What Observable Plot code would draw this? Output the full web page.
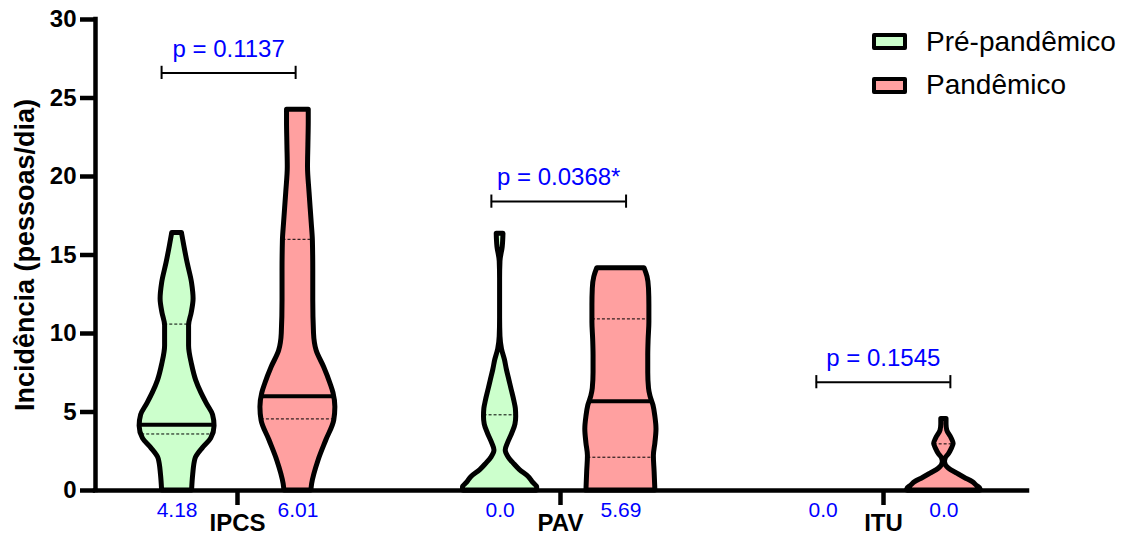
<!DOCTYPE html>
<html>
<head>
<meta charset="utf-8">
<script src="https://cdn.jsdelivr.net/npm/d3@7"></script>
<script src="https://cdn.jsdelivr.net/npm/@observablehq/plot@0.6"></script>
<style>
  body { margin: 0; background: #fff; font-family: "Liberation Sans", Arial, sans-serif; }
  #chart { position: relative; width: 1124px; height: 536px; }
  #chart svg { display: block; }
  .legend { position: absolute; left: 872px; top: 20px; }
  .legend .row { display: flex; align-items: center; height: 43.5px; }
  .legend .swatch { width: 27px; height: 9px; border: 4px solid #000; border-radius: 2px; margin-right: 19px; }
  .legend .label { font-size: 28px; color: #000; }
</style>
</head>
<body>
<div id="chart"></div>
<script>
// ---- data ----------------------------------------------------------------
const categories = ["IPCS", "PAV", "ITU"];
const groups = ["Pré-pandêmico", "Pandêmico"];
const groupColors = ["#ccffcc", "#ffa0a0"];

// medians (labelled under each violin) and quartiles, per category
const medianPre = [4.18, 0.0, 0.0];
const medianPan = [6.01, 5.69, 0.0];
const q1Pre = [3.6, 0.0, 0.0];
const q3Pre = [10.6, 4.82, 0.0];
const q1Pan = [4.56, 2.12, 0.0];
const q3Pan = [16.0, 10.93, 2.97];

// Mann-Whitney p-values, one per category
const pValues = [0.1137, 0.0368, 0.1545];

// kernel density profiles: [incidence, relative density (max = 1)]
const densityIpcsPre = [[0,.40],[1.0,.43],[2.0,.49],[2.7,.69],[3.3,.91],[4.1,1.0],[4.8,.96],[5.5,.80],[6.2,.65],[7.0,.51],[8.0,.40],[9.2,.32],[10.5,.32],[11.3,.39],[12.2,.44],[13.2,.40],[14.5,.28],[15.6,.19],[16.4,.13]];
const densityIpcsPan = [[0,.36],[0.4,.38],[1.9,.55],[3.2,.76],[4.46,.97],[5.3,1.0],[6.2,.95],[6.8,.87],[7.85,.70],[8.9,.50],[10.0,.43],[12.1,.41],[14.0,.41],[15.9,.40],[17.0,.37],[19.0,.31],[20.6,.27],[22.0,.28],[23.5,.29],[24.25,.29]];
const densityPavPre = [[0,.99],[0.2,.99],[0.5,.88],[0.85,.77],[1.3,.53],[1.7,.37],[2.1,.23],[2.55,.15],[3.0,.21],[3.6,.32],[4.2,.41],[4.7,.43],[5.2,.42],[5.7,.38],[6.4,.31],[7.0,.25],[7.7,.18],[8.3,.13],[9.0,.05],[9.8,.01],[11,0],[13.5,0],[14.6,.01],[15.5,.07],[16.35,.09]];
const densityPavPan = [[0,.92],[1.17,.90],[2.2,.88],[3.0,.92],[3.9,.95],[4.7,.92],[5.4,.87],[6.0,.79],[6.5,.75],[7.5,.73],[8.6,.73],[9.6,.74],[10.7,.76],[11.8,.76],[12.85,.75],[13.6,.71],[14.16,.63]];
const densityItuPre = []; // every observation is zero: no visible violin
const densityItuPan = [[0,.98],[0.1,.98],[0.3,.88],[0.53,.77],[0.8,.56],[1.06,.37],[1.4,.13],[1.8,.03],[2.05,.05],[2.3,.13],[2.65,.21],[2.97,.26],[3.3,.21],[3.82,.09],[4.2,.07],[4.56,.07]];

const densities = [
  [densityIpcsPre, densityIpcsPan],
  [densityPavPre, densityPavPan],
  [densityItuPre, densityItuPan]
];
const medians = [medianPre, medianPan];
const q1s = [q1Pre, q1Pan];
const q3s = [q3Pre, q3Pan];

// ---- layout --------------------------------------------------------------
const groupOffset = [-0.187, 0.187];   // violin centres around each category
const violinHalfWidth = 0.116;         // half-width of a density of 1
const bracketSpan = [[-0.235, 0.18], [-0.214, 0.203], [-0.208, 0.207]];
const bracketY = [26.6, 18.4, 6.9];
const blue = "#0000ff";

// ---- derived tables ------------------------------------------------------
const outline = [], medianLines = [], quartileLines = [], valueLabels = [];
categories.forEach((cat, i) => {
  groups.forEach((grp, g) => {
    const center = i + 1 + groupOffset[g];
    const prof = densities[i][g];
    valueLabels.push({x: center, text: medians[g][i] === 0 ? "0.0" : medians[g][i].toFixed(2)});
    if (!prof.length) return;
    const key = cat + "|" + grp;
    for (const [v, d] of prof) {
      outline.push({key, group: grp, v, x1: center - d * violinHalfWidth, x2: center + d * violinHalfWidth});
    }
    const widthAt = d3.scaleLinear().domain(prof.map(p => p[0])).range(prof.map(p => p[1])).clamp(true);
    const seg = v => ({y: v, x1: center - widthAt(v) * violinHalfWidth, x2: center + widthAt(v) * violinHalfWidth});
    medianLines.push(seg(medians[g][i]));
    quartileLines.push(seg(q1s[g][i]), seg(q3s[g][i]));
  });
});

const brackets = categories.map((cat, i) => ({
  x1: i + 1 + bracketSpan[i][0],
  x2: i + 1 + bracketSpan[i][1],
  y: bracketY[i],
  text: `p = ${pValues[i].toFixed(4)}${pValues[i] < 0.05 ? "*" : ""}`
}));
const bracketEnds = brackets.flatMap(b => [{x: b.x1, y: b.y}, {x: b.x2, y: b.y}]);

const xDomain = [0.5604, 3.4458];

const chart = Plot.plot({
  width: 1124,
  height: 536,
  marginLeft: 95,
  marginRight: 97,
  marginTop: 19,
  marginBottom: 46,
  style: {fontFamily: "Liberation Sans, Arial, sans-serif", background: "#fff"},
  x: {domain: xDomain},
  y: {domain: [0, 30]},
  color: {domain: groups, range: groupColors},
  marks: [
    Plot.areaX(outline, {
      y: "v", x1: "x1", x2: "x2", z: "key", fill: "group",
      stroke: "#000", strokeWidth: 5, strokeLinejoin: "round", curve: "monotone-y"
    }),
    Plot.ruleY(quartileLines, {y: "y", x1: "x1", x2: "x2", stroke: "#000", strokeWidth: 1, strokeDasharray: "3,2"}),
    Plot.ruleY(medianLines, {y: "y", x1: "x1", x2: "x2", stroke: "#000", strokeWidth: 4}),
    Plot.ruleY([0], {stroke: "#000", strokeWidth: 4.5, strokeLinecap: "square"}),
    Plot.ruleX([xDomain[0]], {y1: 0, y2: 30, stroke: "#000", strokeWidth: 4.5, strokeLinecap: "square"}),
    Plot.axisY({
      ticks: d3.range(0, 31, 5), tickSize: 15, tickPadding: 4, strokeWidth: 4.5,
      fontSize: 24, fontWeight: "bold", label: null
    }),
    Plot.axisX({
      ticks: [1, 2, 3], tickFormat: t => categories[t - 1], tickSize: 15, tickPadding: 8,
      strokeWidth: 4.5, fontSize: 24, fontWeight: "bold", label: null
    }),
    Plot.text(["Incidência (pessoas/dia)"], {
      text: d => d, frameAnchor: "left", textAnchor: "middle", rotate: -90, dx: -70,
      fontSize: 27, fontWeight: "bold", fill: "#000"
    }),
    Plot.ruleY(brackets, {y: "y", x1: "x1", x2: "x2", stroke: "#000", strokeWidth: 2}),
    Plot.ruleX(bracketEnds, {x: "x", y1: d => d.y - 0.42, y2: d => d.y + 0.42, stroke: "#000", strokeWidth: 2}),
    Plot.text(brackets, {x: d => (d.x1 + d.x2) / 2, y: "y", text: "text", dy: -24, fill: blue, fontSize: 24}),
    Plot.text(valueLabels, {x: "x", y: () => 0, text: "text", dy: 20, fill: blue, fontSize: 21})
  ]
});

const root = document.getElementById("chart");
root.appendChild(chart);

// legend overlaid in the upper-right corner
const legend = document.createElement("div");
legend.className = "legend";
groups.forEach((g, i) => {
  const row = document.createElement("div");
  row.className = "row";
  const sw = document.createElement("span");
  sw.className = "swatch";
  sw.style.background = groupColors[i];
  const lab = document.createElement("span");
  lab.className = "label";
  lab.textContent = g;
  row.append(sw, lab);
  legend.appendChild(row);
});
root.appendChild(legend);
</script>
</body>
</html>
